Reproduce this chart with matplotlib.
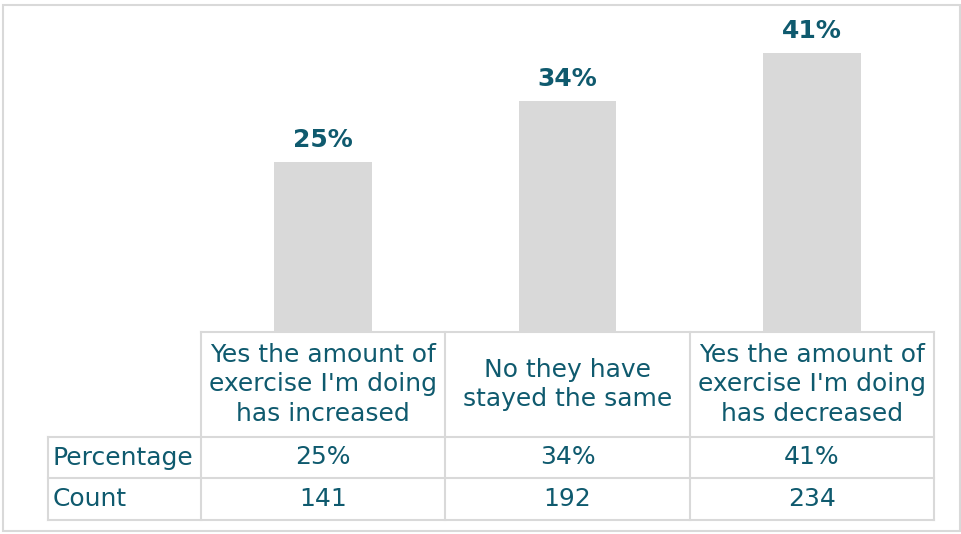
import matplotlib.pyplot as plt
from matplotlib.patches import Rectangle

categories = ["Yes the amount of\nexercise I'm doing\nhas increased",
              "No they have\nstayed the same",
              "Yes the amount of\nexercise I'm doing\nhas decreased"]
percentages = [25, 34, 41]
counts = [141, 192, 234]
row_labels = ["Percentage", "Count"]

TEXT = "#0f5a6e"
GREY = "#d9d9d9"

W, H = 962, 534
fig = plt.figure(figsize=(W / 100, H / 100), dpi=100)

# outer chart border
fig.patches.append(Rectangle((3 / W, 3 / H), 957 / W, 526 / H, transform=fig.transFigure,
                             fill=False, edgecolor=GREY, linewidth=1.5))

# bar area (x = category index)
ax = fig.add_axes([201 / W, (H - 332) / H, 733 / W, 322 / H])
x = range(len(categories))
bars = ax.bar(x, percentages, width=0.4, color=GREY)
ax.set_xlim(-0.5, 2.5)
ax.set_ylim(0, 322 / 6.8)
ax.axis("off")
for b, p in zip(bars, percentages):
    ax.annotate(f"{p}%", (b.get_x() + b.get_width() / 2, b.get_height()),
                xytext=(0, 7), textcoords="offset points", ha="center", va="bottom",
                fontsize=18, fontweight="bold", color=TEXT)

# data table below the bars
label_w = 153 / 244
hdr, r1, r2 = 105, 146, 188
tab = fig.add_axes([48 / W, (H - 520) / H, 886 / W, 188 / H])
tab.set_xlim(-0.5 - label_w, 2.5)
tab.set_ylim(r2, 0)
tab.axis("off")
left = -0.5 - label_w
kw = dict(color=GREY, linewidth=1.5, clip_on=False)
tab.plot([-0.5, 2.5], [0, 0], **kw)
for yy in (hdr, r1, r2):
    tab.plot([left, 2.5], [yy, yy], **kw)
tab.plot([left, left], [hdr, r2], **kw)
for xx in (-0.5, 0.5, 1.5, 2.5):
    tab.plot([xx, xx], [0, r2], **kw)

fs = 18
for i, cat in enumerate(categories):
    tab.text(i, hdr / 2, cat, ha="center", va="center", fontsize=fs, color=TEXT, linespacing=1.3)
    tab.text(i, (hdr + r1) / 2, f"{percentages[i]}%", ha="center", va="center", fontsize=fs, color=TEXT)
    tab.text(i, (r1 + r2) / 2, str(counts[i]), ha="center", va="center", fontsize=fs, color=TEXT)
for lab, yc in zip(row_labels, [(hdr + r1) / 2, (r1 + r2) / 2]):
    tab.text(left + 0.02, yc, lab, ha="left", va="center", fontsize=fs, color=TEXT)

fig.savefig("out.png", dpi=100)
